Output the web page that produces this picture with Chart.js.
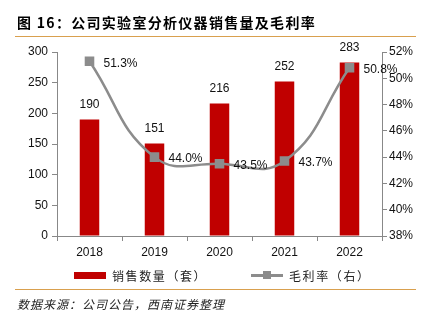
<!DOCTYPE html>
<html><head><meta charset="utf-8">
<script src="https://cdn.jsdelivr.net/npm/chart.js@4"></script>
<style>
html,body{margin:0;padding:0;background:#fff;}
#wrap{position:relative;width:432px;height:322px;overflow:hidden;font-family:"Liberation Sans",Arial,sans-serif;}
#c{position:absolute;left:0;top:0;}
.t{position:absolute;white-space:nowrap;font-family:"Noto Sans CJK SC",sans-serif;}
#title{left:17px;top:12px;font-size:14px;font-weight:bold;letter-spacing:1.3px;color:#000;}
.rule{position:absolute;left:15px;width:401px;height:1px;background:#D9A04E;}
#src{left:17px;top:295px;font-size:12px;font-style:italic;color:#222;letter-spacing:1px;}
.lg{top:267px;font-size:12px;color:#222;letter-spacing:1.6px;}
</style></head>
<body><div id="wrap">
<canvas id="c" width="432" height="322"></canvas>
<div class="t" id="title">图 16：公司实验室分析仪器销售量及毛利率</div>
<div class="rule" style="top:36px"></div>
<div class="rule" style="top:289px"></div>
<div style="position:absolute;left:74px;top:272px;width:32px;height:7px;background:#C00000"></div>
<div class="t lg" style="left:112px">销售数量（套）</div>
<div style="position:absolute;left:251px;top:274px;width:32px;height:3px;background:#8C8C8C"></div>
<div style="position:absolute;left:263px;top:271px;width:8px;height:8px;background:#8C8C8C"></div>
<div class="t lg" style="left:289px">毛利率（右）</div>
<div class="t" id="src">数据来源：公司公告，西南证券整理</div>
</div>
<script>
const categories = ["2018","2019","2020","2021","2022"];
const salesQty = [190,151,216,252,283];
const grossMargin = [51.3,44.0,43.5,43.7,50.8];
const leftTicks = [0,50,100,150,200,250,300];
const rightTicks = [38,40,42,44,46,48,50,52];

const labelPlugin = {
  id:'labels',
  afterDatasetsDraw(chart){
    const ctx = chart.ctx;
    ctx.save();
    ctx.font = '12px "Liberation Sans", Arial, sans-serif';
    ctx.fillStyle = '#111';
    const bars = chart.getDatasetMeta(1).data;
    ctx.textAlign='center'; ctx.textBaseline='bottom';
    bars.forEach((b,i)=>{ ctx.fillText(String(salesQty[i]), b.x, b.y-9); });
    const pts = chart.getDatasetMeta(0).data;
    ctx.textAlign='left'; ctx.textBaseline='middle';
    pts.forEach((p,i)=>{ ctx.fillText(grossMargin[i].toFixed(1)+'%', p.x+14, p.y+2); });
    ctx.restore();
  }
};

new Chart(document.getElementById('c'),{
  data:{
    labels:categories,
    datasets:[
      {type:'line',label:'毛利率（右）',data:grossMargin,yAxisID:'y1',borderColor:'#8C8C8C',backgroundColor:'#8C8C8C',
       borderWidth:2.5,tension:0.45,pointStyle:'rect',pointRadius:5,pointHoverRadius:5,order:0},
      {type:'bar',label:'销售数量（套）',data:salesQty,yAxisID:'y',backgroundColor:'#C00000',
       barPercentage:0.6,categoryPercentage:0.5,order:1}
    ]
  },
  options:{
    responsive:false,animation:false,devicePixelRatio:1,
    layout:{padding:{top:52,bottom:56,left:0,right:0}},
    plugins:{legend:{display:false},tooltip:{enabled:false}},
    scales:{
      x:{offset:true,
        grid:{offset:true,drawOnChartArea:false,drawTicks:true,tickLength:5,color:'#888'},
        border:{color:'#888',width:1},
        ticks:{color:'#111',font:{size:12,family:'"Liberation Sans", Arial, sans-serif'},padding:4},
        afterFit(s){s.height=30;}
      },
      y:{position:'left',min:0,max:300,
        afterBuildTicks(s){s.ticks=leftTicks.map(v=>({value:v}));},
        grid:{drawOnChartArea:false,tickLength:5,color:'#888'},
        border:{color:'#888',width:1},
        ticks:{color:'#111',font:{size:12,family:'"Liberation Sans", Arial, sans-serif'},padding:4},
        afterFit(s){s.width=57;}
      },
      y1:{position:'right',min:38,max:52,
        afterBuildTicks(s){s.ticks=rightTicks.map(v=>({value:v}));},
        grid:{drawOnChartArea:false,tickLength:5,color:'#888'},
        border:{color:'#888',width:1},
        ticks:{color:'#111',font:{size:12,family:'"Liberation Sans", Arial, sans-serif'},padding:2,callback:v=>v+'%'},
        afterFit(s){s.width=50;}
      }
    }
  },
  plugins:[labelPlugin]
});
</script>
</body></html>
